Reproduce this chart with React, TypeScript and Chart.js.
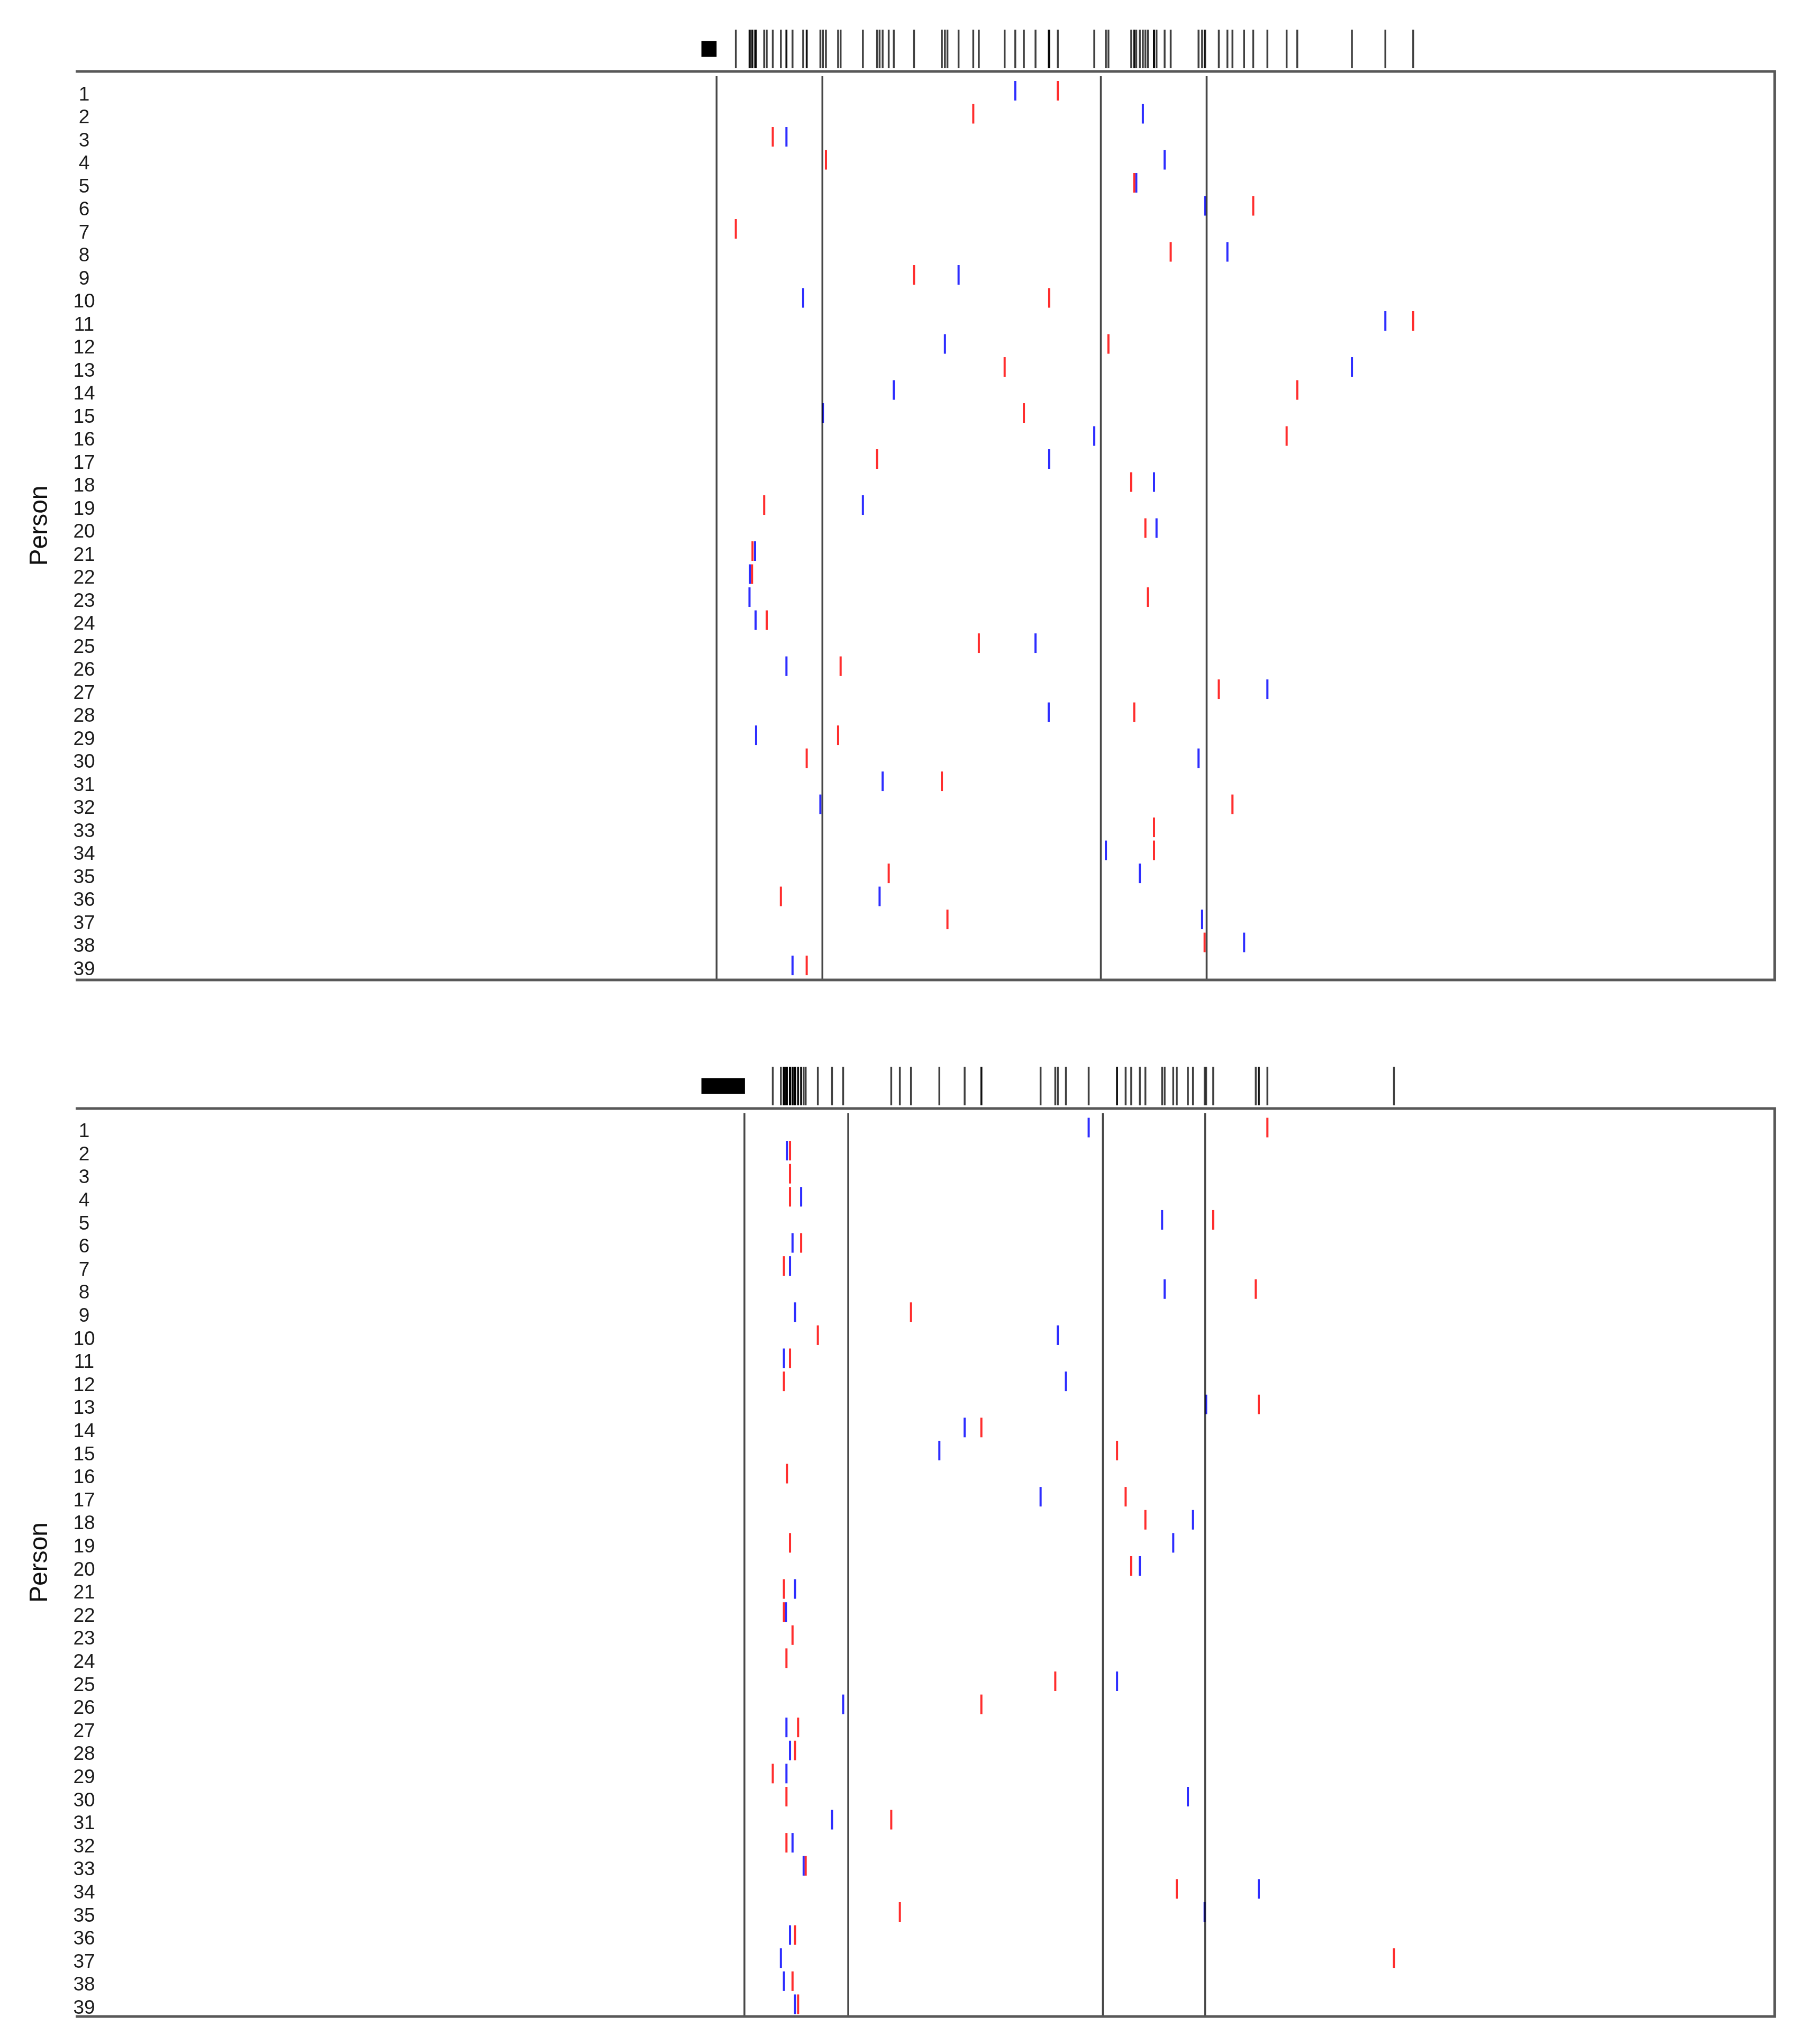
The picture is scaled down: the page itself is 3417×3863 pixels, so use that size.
import React, { useEffect, useRef } from 'react';
import { Chart, registerables } from 'chart.js';

Chart.register(...registerables);

// ---- data ----
const personLabels = [
  '1', '2', '3', '4', '5', '6', '7', '8', '9', '10',
  '11', '12', '13', '14', '15', '16', '17', '18', '19', '20',
  '21', '22', '23', '24', '25', '26', '27', '28', '29', '30',
  '31', '32', '33', '34', '35', '36', '37', '38', '39',
];

// Panel 1 (top): event times per person (null = no event)
const panel1Red = [
  1940, 1773, 1377, 1482, 2091, 2326, 1304, 2163, 1656, 1923,
  2642, 2040, 1835, 2413, 1873, 2392, 1583, 2085, 1360, 2113,
  1337, 1336, 2118, 1365, 1784, 1511, 2258, 2091, 1506, 1444,
  1711, 2285, 2130, 2130, 1606, 1393, 1722, 2230, 1444,
];
const panel1Blue = [
  1856, 2108, 1404, 2151, 2095, 2231, null, 2275, 1744, 1437,
  2587, 1717, 2521, 1616, 1476, 2012, 1923, 2130, 1555, 2135,
  1342, 1332, 1331, 1343, 1896, 1404, 2354, 1922, 1344, 2218,
  1594, 1471, null, 2035, 2102, 1588, 2225, 2308, 1416,
];
const panel1Lines = [1266, 1475, 2025, 2234];
const panel1Bar = [1236, 1266];
const panel1Rows = [0.161, 39.63];

// Panel 2 (bottom)
const panel2Red = [
  2354, 1411, 1411, 1411, 2247, 1433, 1399, 2331, 1650, 1466,
  1411, 1399, 2337, 1789, 2057, 1405, 2074, 2113, 1411, 2085,
  1399, 1399, 1416, 1404, 1935, 1789, 1427, 1421, 1377, 1404,
  1611, 1404, 1442, 2175, 1628, 1421, 2604, 1416, 1427,
];
const panel2Blue = [
  2001, 1405, null, 1433, 2146, 1416, 1411, 2151, 1421, 1940,
  1399, 1956, 2233, 1756, 1706, null, 1906, 2207, 2168, 2102,
  1421, 1403, null, null, 2057, 1516, 1404, 1411, 1404, 2197,
  1494, 1416, 1438, 2337, 2230, 1411, 1393, 1399, 1421,
];
const panel2Lines = [1321, 1526, 2029, 2231];
const panel2Bar = [1236, 1322];
const panel2Rows = [0.174, 39.53];

const xRange = [0, 3356];

const FONT = '"Liberation Sans", Arial, Helvetica, sans-serif';
const RED = 'rgb(255,45,45)';
const BLUE = 'rgb(45,45,255)';

type Pt = { x: number; y: number };

function toPoints(values: (number | null)[]): Pt[] {
  const out: Pt[] = [];
  values.forEach((v, i) => {
    if (v !== null && v !== undefined) out.push({ x: v, y: i + 1 });
  });
  return out;
}

function decorPlugin(lines: number[], bar: number[], rug: number[]) {
  return {
    id: 'decor',
    afterDatasetsDraw(chart: any) {
      const { ctx, chartArea: a } = chart;
      const x = chart.scales.x;
      ctx.save();
      // reference lines
      ctx.strokeStyle = 'rgba(0,0,0,0.72)';
      ctx.lineWidth = 3.5;
      lines.forEach((v) => {
        const px = x.getPixelForValue(v);
        ctx.beginPath();
        ctx.moveTo(px, a.top + 9);
        ctx.lineTo(px, a.bottom);
        ctx.stroke();
      });
      // frame (top, right, bottom)
      ctx.strokeStyle = '#585858';
      ctx.lineWidth = 5;
      ctx.lineJoin = 'miter';
      ctx.beginPath();
      ctx.moveTo(a.left, a.top);
      ctx.lineTo(a.right, a.top);
      ctx.lineTo(a.right, a.bottom);
      ctx.lineTo(a.left, a.bottom);
      ctx.stroke();
      // rug of all event times
      ctx.strokeStyle = 'rgba(0,0,0,0.75)';
      ctx.lineWidth = 3.5;
      rug.forEach((v) => {
        const px = x.getPixelForValue(v);
        ctx.beginPath();
        ctx.moveTo(px, a.top - 79);
        ctx.lineTo(px, a.top - 6);
        ctx.stroke();
      });
      // black bar
      const x0 = x.getPixelForValue(bar[0]);
      const x1 = x.getPixelForValue(bar[1]);
      ctx.fillStyle = '#000';
      ctx.fillRect(x0, a.top - 57.5, x1 - x0, 30);
      ctx.restore();
    },
  };
}

function Panel(props: {
  top: number;
  height: number;
  red: (number | null)[];
  blue: (number | null)[];
  lines: number[];
  bar: number[];
  rows: number[];
}) {
  const ref = useRef<HTMLCanvasElement | null>(null);
  useEffect(() => {
    const canvas = ref.current;
    if (!canvas) return;
    const redPts = toPoints(props.red);
    const bluePts = toPoints(props.blue);
    const rug = [...redPts, ...bluePts].map((p) => p.x);
    const mk = (label: string, data: Pt[], color: string) => ({
      label,
      data,
      showLine: false,
      pointStyle: 'line',
      pointRotation: 90,
      rotation: 90,
      pointRadius: 18.5,
      pointHoverRadius: 18.5,
      pointBorderWidth: 4,
      pointBorderColor: color,
      pointBackgroundColor: color,
      borderColor: color,
      backgroundColor: color,
      clip: false,
    });
    const chart = new Chart(canvas, {
      type: 'scatter',
      data: {
        datasets: [mk('red', redPts, RED), mk('blue', bluePts, BLUE)],
      },
      options: {
        responsive: false,
        animation: false,
        devicePixelRatio: 1,
        events: [],
        layout: {
          padding: { left: 0, right: 63, top: 135, bottom: props.height - 1851 - (props.top === 0 ? 1 : 0) },
        },
        elements: {
          point: { pointStyle: 'line', rotation: 90, radius: 18.5, borderWidth: 4 },
        },
        plugins: {
          legend: { display: false },
          tooltip: { enabled: false },
        },
        scales: {
          x: {
            type: 'linear',
            min: xRange[0],
            max: xRange[1],
            display: false,
          },
          y: {
            type: 'linear',
            reverse: true,
            min: props.rows[0],
            max: props.rows[1],
            afterBuildTicks: (s: any) => {
              s.ticks = personLabels.map((_, i) => ({ value: i + 1 }));
            },
            afterFit: (s: any) => {
              s.width = 143;
            },
            grid: { display: false, drawTicks: false },
            border: { display: false },
            ticks: {
              mirror: true,
              crossAlign: 'center',
              padding: -4.6,
              labelOffset: 8,
              autoSkip: false,
              color: '#1c1c1c',
              font: { family: FONT, size: 37, lineHeight: 1 },
              callback: (_v: any, i: number) => personLabels[i],
            },
            title: {
              display: true,
              text: 'Person',
              color: '#111',
              font: { family: FONT, size: 48, lineHeight: 1.2 },
              padding: { top: 46.7, bottom: 0 },
            },
          },
        },
      } as any,
      plugins: [decorPlugin(props.lines, props.bar, rug)],
    });
    return () => chart.destroy();
  }, []);
  return (
    <canvas
      ref={ref}
      width={3417}
      height={props.height}
      style={{
        position: 'absolute',
        left: 0,
        top: props.top,
        width: 3417,
        height: props.height,
        display: 'block',
      }}
    />
  );
}

export default function App() {
  return (
    <div
      style={{
        position: 'fixed',
        left: 0,
        top: 0,
        width: 3417,
        height: 3863,
        overflow: 'hidden',
        background: '#fff',
      }}
    >
      <Panel top={0} height={1960} red={panel1Red} blue={panel1Blue} lines={panel1Lines} bar={panel1Bar} rows={panel1Rows} />
      <Panel top={1960} height={1903} red={panel2Red} blue={panel2Blue} lines={panel2Lines} bar={panel2Bar} rows={panel2Rows} />
    </div>
  );
}
